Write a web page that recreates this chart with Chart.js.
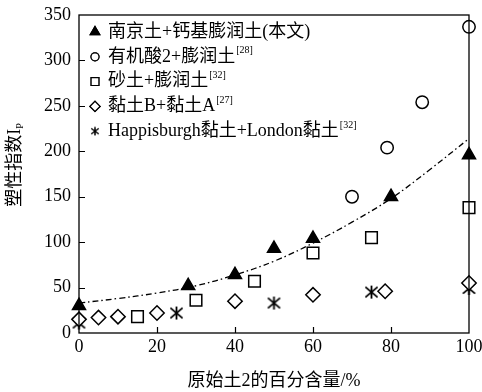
<!DOCTYPE html>
<html>
<head>
<meta charset="utf-8">
<script src="https://cdn.jsdelivr.net/npm/chart.js@4.4.0/dist/chart.umd.min.js"></script>
<style>
  html, body { margin: 0; padding: 0; background: #fff; }
  #wrap { width: 482px; height: 392px; position: relative; }
</style>
</head>
<body>
<div id="wrap"><canvas id="chart"></canvas></div>
<script>
// --- DADOS ---
const seriesNames = ['南京土+钙基膨润土(本文)', '有机酸2+膨润土', '砂土+膨润土', '黏土B+黏土A', 'Happisburgh黏土+London黏土'];
const seriesRefs = ['', '[28]', '[32]', '[27]', '[32]'];
const nanjingX = [0, 28, 40, 50, 60, 80, 100];
const nanjingY = [30, 52, 64, 93, 104, 150, 196];
const acidX = [70, 79, 88, 100];
const acidY = [150, 204, 254, 337];
const sandX = [15, 30, 45, 60, 75, 100];
const sandY = [18, 36, 57, 88, 105, 138];
const clayX = [0, 5, 10, 20, 40, 60, 78.5, 100];
const clayY = [15, 17, 18, 22, 35, 42, 46, 55];
const londonX = [0, 25, 50, 75, 100];
const londonY = [11, 22, 33, 45, 49];
const fitX = [0, 10, 20, 30, 40, 50, 60, 70, 80, 90, 100];
const fitY = [33, 38, 44, 52, 64, 79, 99, 122, 148, 180, 214];
const xTicks = [0, 20, 40, 60, 80, 100];
const yTicks = [0, 50, 100, 150, 200, 250, 300, 350];

const FONT = '"Liberation Serif", "Noto Sans CJK SC", serif';
const pts = (xs, ys) => xs.map((x, i) => ({ x: x, y: ys[i] }));

// asterisco: vertical + duas diagonais
const makeStar = (w, h, lw) => {
    const c = document.createElement('canvas');
    c.width = w; c.height = h;
    const g = c.getContext('2d');
    const p = lw / 2 + 0.5;
    g.strokeStyle = '#000'; g.lineWidth = lw;
    g.beginPath();
    g.moveTo(w / 2, p - 0.5); g.lineTo(w / 2, h - p + 0.5);
    g.moveTo(p, p + 1); g.lineTo(w - p, h - p - 1);
    g.moveTo(w - p, p + 1); g.lineTo(p, h - p - 1);
    g.stroke();
    return c;
};
const starBig = makeStar(15, 15, 1.8);
const starSmall = makeStar(10, 10, 1.5);

const markers = [
    { pointStyle: 'triangle', radius: 7.5, fill: '#000', legendR: 5.5 },
    { pointStyle: 'circle', radius: 6.2, fill: '#fff', legendR: 4 },
    { pointStyle: 'rect', radius: 8.2, fill: '#fff', legendR: 5.5 },
    { pointStyle: 'rectRot', radius: 7.2, fill: '#fff', legendR: 5 },
    { pointStyle: starBig, radius: 7, fill: '#fff', legendR: 5, legendStyle: starSmall }
];
const seriesData = [pts(nanjingX, nanjingY), pts(acidX, acidY), pts(sandX, sandY), pts(clayX, clayY), pts(londonX, londonY)];

const datasets = seriesData.map((d, i) => ({
    label: seriesNames[i],
    data: d,
    showLine: false,
    pointStyle: markers[i].pointStyle,
    pointRadius: markers[i].radius,
    pointBackgroundColor: markers[i].fill,
    pointBorderColor: '#000',
    pointBorderWidth: 1.5,
    clip: false,
    order: 1
}));
datasets.push({
    label: 'fit',
    data: pts(fitX, fitY),
    showLine: true,
    borderColor: '#000',
    borderWidth: 1.3,
    borderDash: [6, 3, 1.5, 3],
    tension: 0.4,
    pointRadius: 0,
    fill: false,
    order: 2
});

// moldura, ticks para dentro, legenda e título do eixo Y
const decor = {
    id: 'decor',
    afterDraw(chart) {
        const { ctx, chartArea: a, scales: { x, y } } = chart;
        ctx.save();
        ctx.strokeStyle = '#000';
        ctx.lineWidth = 1.3;
        ctx.strokeRect(a.left, a.top, a.right - a.left, a.bottom - a.top);
        ctx.beginPath();
        yTicks.slice(1, -1).forEach(v => {
            const py = Math.round(y.getPixelForValue(v)) + 0.5;
            ctx.moveTo(a.left, py); ctx.lineTo(a.left + 6, py);
        });
        xTicks.slice(1, -1).forEach(v => {
            const px = Math.round(x.getPixelForValue(v)) + 0.5;
            ctx.moveTo(px, a.bottom); ctx.lineTo(px, a.bottom - 6);
        });
        ctx.lineWidth = 1.2;
        ctx.stroke();

        // legenda
        seriesNames.forEach((name, i) => {
            const cy = 32 + i * 24.8;
            const m = markers[i];
            Chart.helpers.drawPoint(ctx, {
                pointStyle: m.legendStyle || m.pointStyle,
                radius: m.legendR,
                borderWidth: 1.4
            }, 95, cy);
            ctx.fillStyle = m.fill;
            ctx.strokeStyle = '#000';
            ctx.fill();
            ctx.stroke();
            ctx.fillStyle = '#000';
            ctx.font = '18px ' + FONT;
            ctx.textBaseline = 'middle';
            ctx.textAlign = 'left';
            ctx.fillText(name, 108, cy);
            if (seriesRefs[i]) {
                const w = ctx.measureText(name).width;
                ctx.font = '10px ' + FONT;
                ctx.fillText(seriesRefs[i], 108 + w + 1, cy - 6);
            }
        });

        // título Y com subscrito
        ctx.translate(15, 165);
        ctx.rotate(-Math.PI / 2);
        ctx.font = '18px ' + FONT;
        ctx.textBaseline = 'middle';
        const main = '塑性指数I';
        const wMain = ctx.measureText(main).width;
        ctx.font = '10px ' + FONT;
        const wSub = ctx.measureText('P').width;
        const start = -(wMain + wSub) / 2;
        ctx.font = '18px ' + FONT;
        ctx.fillText(main, start, 0);
        ctx.font = '10px ' + FONT;
        ctx.fillText('P', start + wMain, 5);
        ctx.restore();
    }
};

new Chart(document.getElementById('chart'), {
    type: 'scatter',
    data: { datasets: datasets },
    options: {
        responsive: true,
        maintainAspectRatio: false,
        animation: false,
        events: [],
        layout: { padding: { left: 0, right: 13, top: 15, bottom: 0 } },
        plugins: { legend: { display: false }, tooltip: { enabled: false } },
        scales: {
            x: {
                type: 'linear', min: 0, max: 100,
                afterBuildTicks: s => { s.ticks = xTicks.map(v => ({ value: v })); },
                ticks: { color: '#000', padding: 3, font: { family: FONT, size: 18 } },
                grid: { display: false, drawTicks: false },
                border: { display: false },
                title: {
                    display: true, text: '原始土2的百分含量/%', color: '#000',
                    font: { family: FONT, size: 18, lineHeight: 1.2 },
                    padding: { top: 0, bottom: 0 }
                },
                afterFit: s => { s.height = 59; s.paddingLeft = 0; s.paddingRight = 0; }
            },
            y: {
                type: 'linear', min: 0, max: 350,
                afterBuildTicks: s => { s.ticks = yTicks.map(v => ({ value: v })); },
                ticks: { color: '#000', padding: 8, font: { family: FONT, size: 18 } },
                grid: { display: false, drawTicks: false },
                border: { display: false },
                afterFit: s => { s.width = 79; s.paddingTop = 0; s.paddingBottom = 0; }
            }
        }
    },
    plugins: [decor]
});
</script>
</body>
</html>
